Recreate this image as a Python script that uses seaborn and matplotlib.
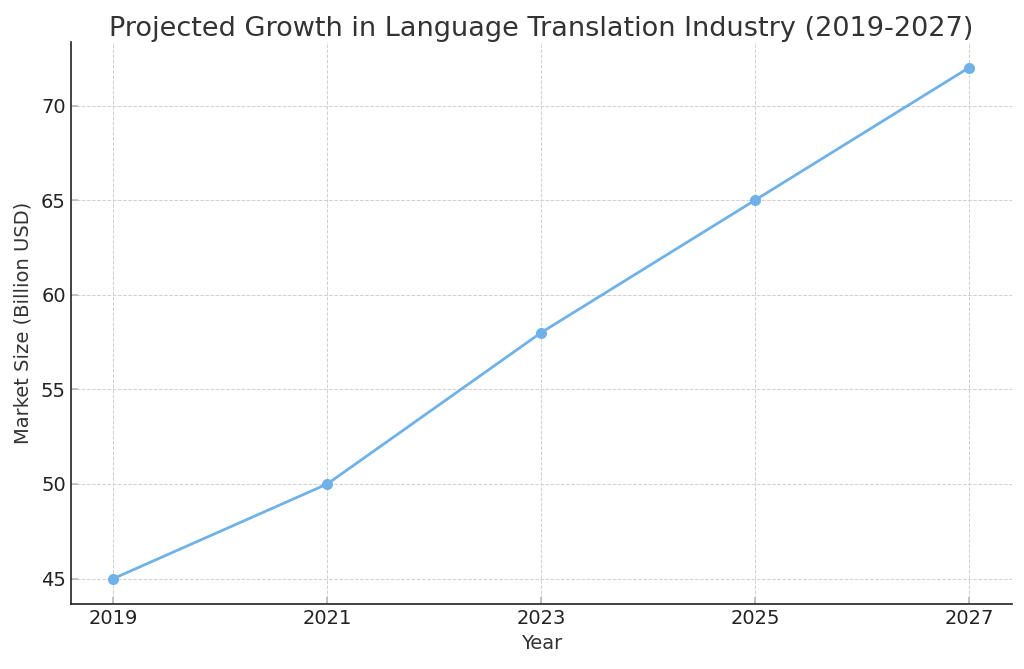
import pandas as pd
import matplotlib
matplotlib.use('Agg')
import matplotlib.pyplot as plt
import seaborn as sns

years = [2019, 2021, 2023, 2025, 2027]
market_size = [45, 50, 58, 65, 72]

df = pd.DataFrame({'Year': years, 'Market Size': market_size})

sns.set_theme(style='whitegrid', rc={
    'axes.edgecolor': '#222222',
    'axes.linewidth': 1.2,
    'grid.color': '#d0d0d0',
    'grid.linestyle': '--',
    'grid.linewidth': 0.7,
    'xtick.direction': 'in',
    'ytick.direction': 'in',
    'xtick.bottom': True,
    'ytick.left': True,
    'xtick.color': '#bbbbbb',
    'ytick.color': '#bbbbbb',
    'xtick.labelcolor': '#222222',
    'ytick.labelcolor': '#222222',
    'axes.labelcolor': '#333333',
    'text.color': '#333333',
})
plt.rcParams['font.family'] = ['DejaVu Sans']

fig, ax = plt.subplots(figsize=(10.24, 6.69), dpi=100)
sns.lineplot(data=df, x='Year', y='Market Size', marker='o', color='#70b2e8',
             linewidth=2, markersize=8, markeredgewidth=0, ax=ax)

ax.set_xticks(years)
ax.set_title('Projected Growth in Language Translation Industry (2019-2027)',
             fontsize=19.5, pad=4)
ax.set_xlabel('Year', fontsize=14)
ax.set_ylabel('Market Size (Billion USD)', fontsize=14, labelpad=6)
ax.tick_params(labelsize=14, length=5)
sns.despine(ax=ax)

fig.subplots_adjust(left=0.069, right=0.988, top=0.937, bottom=0.097)
fig.savefig('out.png', dpi=100)
